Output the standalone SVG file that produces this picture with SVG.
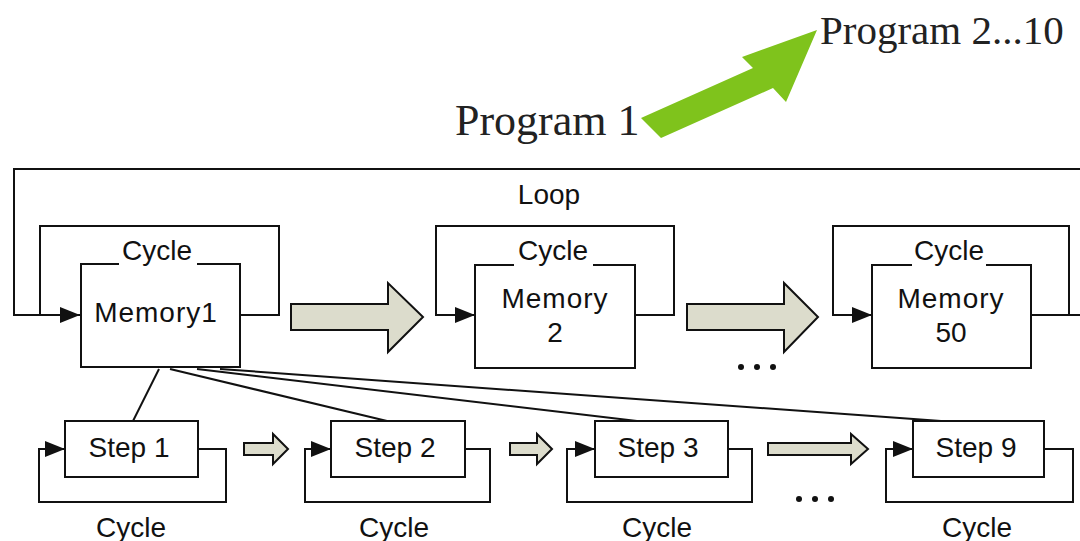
<svg xmlns="http://www.w3.org/2000/svg" width="1080" height="541" viewBox="0 0 1080 541">
<defs>
<style>
.ln{fill:none;stroke:#111;stroke-width:2}
.bx{fill:#fff;stroke:#111;stroke-width:2}
.t{font-family:"Liberation Sans",Arial,sans-serif;font-size:28px;fill:#111;text-anchor:middle}
.m{letter-spacing:1px}
.p{font-family:"Liberation Serif","Times New Roman",serif;font-size:44px;fill:#222}
.fa{fill:#dcdccc;stroke:#111;stroke-width:2;stroke-linejoin:miter}
</style>
<marker id="ahb" viewBox="0 0 10 10" refX="10" refY="5" markerWidth="20" markerHeight="16" markerUnits="userSpaceOnUse" orient="auto" preserveAspectRatio="none">
<path d="M0,0 L10,5 L0,10 z" fill="#111"/>
</marker>
</defs>
<rect width="1080" height="541" fill="#fff"/>

<g id="program-labels">
<text class="p" x="455" y="135">Program 1</text>
<text class="p" x="820" y="44" style="font-size:41px">Program 2...10</text>
<polygon points="641,118 753,68 742,57 817,30 786,102 773,88 661,138" fill="#7fc31c"/>
</g>

<g id="connectors">
<!-- outer loop -->
<path class="ln" d="M1080,169 H14 V315 H80" marker-end="url(#ahb)"/>
<text class="t" x="549" y="204">Loop</text>
<!-- memory cycles -->
<path class="ln" d="M240,315 H279 V226 H40 V315"/>
<path class="ln" d="M635,315 H674 V226 H436 V315 H475" marker-end="url(#ahb)"/>
<path class="ln" d="M1031,315 H1080 M1069,315 V226 H833 V315 H872" marker-end="url(#ahb)"/>
<!-- fat arrows -->
<polygon class="fa" points="291,304 388,304 388,283 423,317 388,352 388,330 291,330"/>
<polygon class="fa" points="687,304 784,304 784,283 818,317 784,352 784,330 687,330"/>
<!-- memory1 to steps -->
<line class="ln" x1="159" y1="369" x2="133" y2="421"/>
<line class="ln" x1="170" y1="369" x2="387" y2="421"/>
<line class="ln" x1="197" y1="369" x2="637" y2="421"/>
<line class="ln" x1="220" y1="369" x2="941" y2="421"/>
<!-- step cycles -->
<path class="ln" d="M198,449 H226 V502 H39 V449 H65" marker-end="url(#ahb)"/>
<path class="ln" d="M465,449 H490 V502 H305 V449 H331" marker-end="url(#ahb)"/>
<path class="ln" d="M728,449 H752 V502 H567 V449 H595" marker-end="url(#ahb)"/>
<path class="ln" d="M1044,449 H1073 V502 H886 V449 H913" marker-end="url(#ahb)"/>
<!-- small arrows -->
<polygon class="fa" points="244,443 273,443 273,434 288,449 273,464 273,455 244,455"/>
<polygon class="fa" points="510,443 537,443 537,434 552,449 537,464 537,455 510,455"/>
<polygon class="fa" points="768,443 851,443 851,434 868,449 851,464 851,455 768,455"/>
<!-- ellipses -->
<g fill="#111">
<circle cx="741" cy="367" r="3"/><circle cx="757" cy="367" r="3"/><circle cx="773" cy="367" r="3"/>
<circle cx="799" cy="499" r="3"/><circle cx="815" cy="499" r="3"/><circle cx="831" cy="499" r="3"/>
</g>
</g>

<g id="memory1">
<rect class="bx" x="81" y="264" width="159" height="103"/>
<rect x="119" y="258" width="78" height="12" fill="#fff"/>
<text class="t" x="157" y="260">Cycle</text>
<text class="t m" x="156" y="322">Memory1</text>
</g>
<g id="memory2">
<rect class="bx" x="475" y="265" width="160" height="103"/>
<rect x="514" y="258" width="79" height="12" fill="#fff"/>
<text class="t" x="553" y="260">Cycle</text>
<text class="t m" x="555" y="308">Memory</text>
<text class="t" x="555" y="342">2</text>
</g>
<g id="memory50">
<rect class="bx" x="872" y="265" width="159" height="103"/>
<rect x="912" y="258" width="74" height="12" fill="#fff"/>
<text class="t" x="949" y="260">Cycle</text>
<text class="t m" x="951" y="308">Memory</text>
<text class="t" x="951" y="342">50</text>
</g>

<g id="step1">
<rect class="bx" x="65" y="421" width="133" height="56"/>
<text class="t" x="129" y="457">Step 1</text>
<text class="t" x="131" y="537">Cycle</text>
</g>
<g id="step2">
<rect class="bx" x="331" y="421" width="134" height="56"/>
<text class="t" x="395" y="457">Step 2</text>
<text class="t" x="394" y="537">Cycle</text>
</g>
<g id="step3">
<rect class="bx" x="595" y="421" width="133" height="56"/>
<text class="t" x="658" y="457">Step 3</text>
<text class="t" x="657" y="537">Cycle</text>
</g>
<g id="step9">
<rect class="bx" x="913" y="421" width="131" height="56"/>
<text class="t" x="976" y="457">Step 9</text>
<text class="t" x="977" y="537">Cycle</text>
</g>
</svg>
